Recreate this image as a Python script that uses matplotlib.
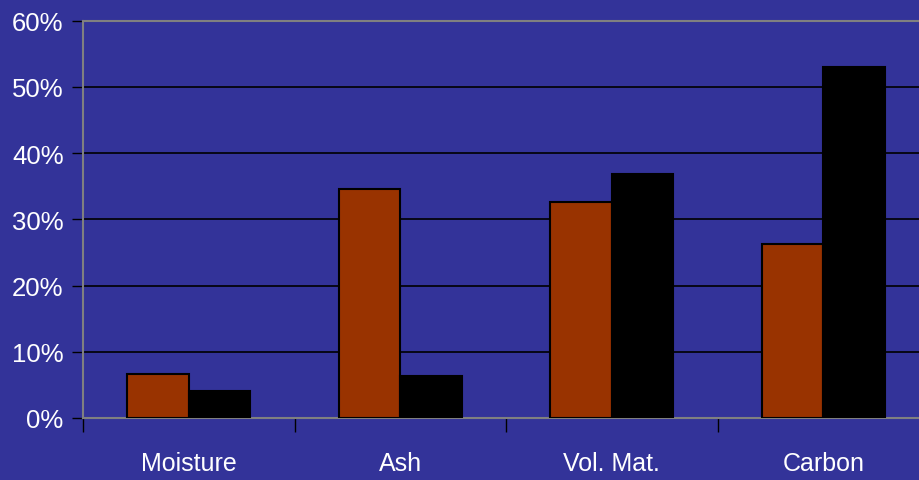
import matplotlib
matplotlib.use("Agg")
import matplotlib.pyplot as plt
from matplotlib import font_manager as fm
import numpy as np

categories = ["Moisture", "Ash", "Vol. Mat.", "Carbon"]
series_a = [6.7, 34.6, 32.6, 26.2]
series_b = [4.1, 6.3, 36.8, 53.0]
y_ticks = [0, 10, 20, 30, 40, 50, 60]
y_labels = ["0%", "10%", "20%", "30%", "40%", "50%", "60%"]

names = {f.name for f in fm.fontManager.ttflist}
fam = "Liberation Sans Narrow" if "Liberation Sans Narrow" in names else "Liberation Sans"
plt.rcParams["font.family"] = [fam, "DejaVu Sans"]

bg = "#333399"
fig = plt.figure(figsize=(9.2, 4.81), dpi=100, facecolor=bg)
ax = fig.add_axes([83/920, 62/481, 4*211.5/920, 397.5/481], facecolor=bg)

x = np.arange(len(categories)) + 0.5
w = 0.29
ax.bar(x - w/2, series_a, w, color="#993300", edgecolor="black", linewidth=1.5, zorder=3)
ax.bar(x + w/2, series_b, w, color="black", edgecolor="black", linewidth=1.5, zorder=3)

ax.set_xlim(0, 4)
ax.set_ylim(0, 60)
ax.set_yticks(y_ticks)
ax.set_yticklabels(y_labels)
ax.yaxis.grid(True, color="black", linewidth=1.2, zorder=0)
ax.set_axisbelow(True)

ax.set_xticks([0, 1, 2, 3, 4])
ax.set_xticklabels([])
ax.set_xticks(x, minor=True)
ax.set_xticklabels(categories, minor=True)
ax.tick_params(axis="x", which="minor", length=0, pad=24, labelsize=18, labelcolor="white")
ax.tick_params(axis="x", which="major", length=10, width=1, color="black", direction="out")
ax.tick_params(axis="y", length=8, width=1, color="black", direction="out", pad=6,
               labelsize=18.5, labelcolor="white")

for s in ["left", "bottom", "top"]:
    ax.spines[s].set_color("#808080")
    ax.spines[s].set_linewidth(1.5)
ax.spines["right"].set_visible(False)

fig.savefig("out.png", dpi=100, facecolor=bg)
